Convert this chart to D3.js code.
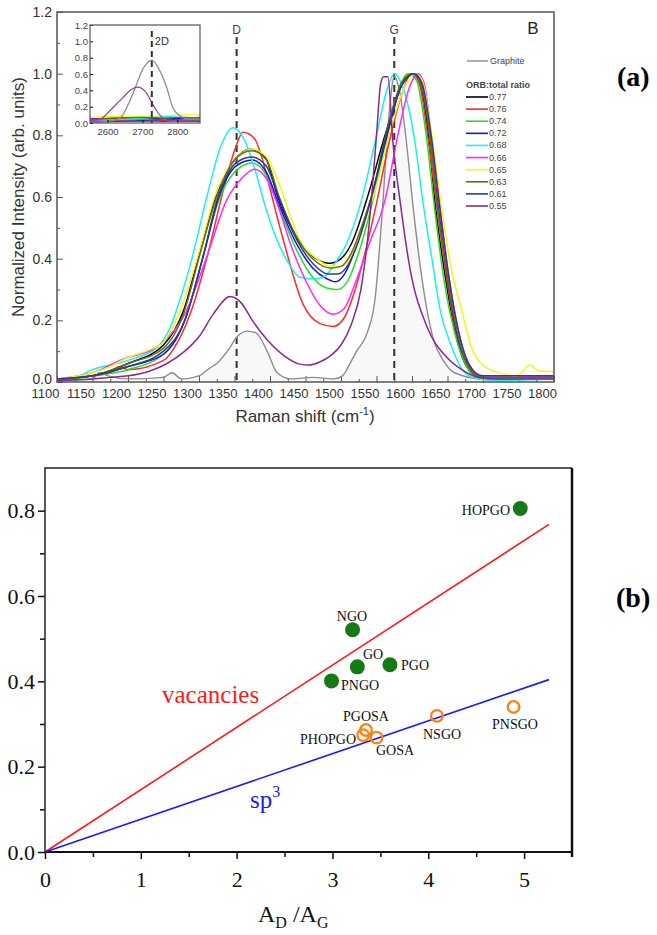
<!DOCTYPE html>
<html>
<head>
<meta charset="utf-8">
<script src="https://cdn.jsdelivr.net/npm/d3@7"></script>
<style>
body { margin: 0; background: #fff; }
svg { display: block; }
</style>
</head>
<body>
<svg id="fig" width="657" height="935"></svg>
<script>
// ---- panel (a): Raman spectra ----
var ratios = ['0.77', '0.76', '0.74', '0.72', '0.68', '0.66', '0.65', '0.63', '0.61', '0.55'];
var ratioColors = ['#000000', '#ff2a2a', '#22e022', '#1414dc', '#19f0f0', '#ff28ff', '#f5f514', '#6e6e00', '#2a3c96', '#8a2a8f'];

var graphite = [[1100,0.005],[1150,0.01],[1160,0.03],[1172,0.02],[1200,0.01],[1250,0.015],[1262,0.03],[1275,0.01],[1300,0.02],[1315,0.045],[1325,0.06],[1340,0.1],[1355,0.15],[1368,0.165],[1380,0.16],[1396,0.1],[1410,0.03],[1430,0.01],[1460,0.015],[1490,0.01],[1502,0.02],[1515,0.07],[1522,0.1],[1537,0.16],[1548,0.27],[1558,0.55],[1567,0.85],[1575,0.99],[1582,0.95],[1593,0.76],[1601,0.58],[1615,0.32],[1630,0.14],[1644,0.07],[1660,0.03],[1700,0.01],[1800,0.01]];

var s077 = [[1100,0.01],[1150,0.02],[1200,0.06],[1250,0.12],[1278,0.23],[1302,0.43],[1325,0.61],[1350,0.72],[1372,0.755],[1393,0.73],[1411,0.6],[1440,0.46],[1465,0.4],[1484,0.385],[1500,0.4],[1515,0.45],[1536,0.59],[1562,0.8],[1585,0.96],[1600,1.0],[1612,0.97],[1623,0.8],[1633,0.57],[1647,0.34],[1660,0.17],[1677,0.05],[1695,0.015],[1800,0.015]];
var s076 = [[1100,0.005],[1150,0.02],[1175,0.03],[1188,0.05],[1200,0.04],[1250,0.07],[1270,0.13],[1292,0.25],[1313,0.42],[1334,0.62],[1350,0.75],[1362,0.81],[1378,0.79],[1392,0.7],[1404,0.59],[1420,0.45],[1447,0.25],[1470,0.19],[1489,0.18],[1505,0.21],[1520,0.3],[1535,0.43],[1551,0.59],[1568,0.78],[1585,0.93],[1600,1.0],[1610,0.97],[1622,0.8],[1635,0.57],[1648,0.35],[1660,0.18],[1675,0.07],[1690,0.02],[1710,0.01],[1800,0.01]];
var s074 = [[1100,0.0],[1150,0.02],[1200,0.04],[1250,0.09],[1280,0.2],[1305,0.4],[1328,0.59],[1350,0.68],[1375,0.71],[1395,0.67],[1412,0.57],[1435,0.44],[1460,0.34],[1480,0.305],[1495,0.3],[1510,0.33],[1525,0.42],[1545,0.59],[1565,0.8],[1582,0.95],[1594,1.0],[1606,0.98],[1620,0.8],[1632,0.56],[1645,0.33],[1660,0.16],[1677,0.05],[1695,0.01],[1800,0.01]];
var s072 = [[1100,0.01],[1150,0.02],[1200,0.05],[1250,0.09],[1280,0.2],[1305,0.4],[1328,0.6],[1352,0.7],[1375,0.72],[1395,0.68],[1412,0.58],[1437,0.45],[1460,0.37],[1480,0.335],[1492,0.325],[1505,0.35],[1520,0.43],[1543,0.6],[1565,0.8],[1585,0.96],[1602,1.0],[1612,0.97],[1625,0.8],[1637,0.57],[1650,0.34],[1662,0.17],[1680,0.05],[1700,0.015],[1800,0.015]];
var s068 = [[1100,0.01],[1125,0.015],[1150,0.04],[1200,0.07],[1240,0.11],[1260,0.18],[1275,0.28],[1290,0.4],[1311,0.6],[1330,0.76],[1348,0.825],[1365,0.78],[1380,0.68],[1392,0.58],[1410,0.46],[1425,0.39],[1442,0.34],[1460,0.335],[1475,0.34],[1490,0.38],[1508,0.45],[1529,0.59],[1550,0.8],[1565,0.95],[1575,1.0],[1588,0.95],[1604,0.78],[1615,0.59],[1628,0.4],[1640,0.23],[1655,0.12],[1668,0.05],[1685,0.015],[1710,0.005],[1800,0.01]];
var s066 = [[1100,0.01],[1150,0.03],[1200,0.08],[1230,0.1],[1250,0.13],[1280,0.22],[1310,0.4],[1339,0.59],[1360,0.66],[1378,0.69],[1395,0.66],[1410,0.58],[1430,0.44],[1450,0.33],[1470,0.25],[1489,0.22],[1505,0.24],[1520,0.32],[1540,0.45],[1562,0.59],[1580,0.8],[1597,0.96],[1608,1.0],[1617,0.97],[1628,0.78],[1640,0.55],[1652,0.34],[1665,0.17],[1680,0.06],[1700,0.015],[1800,0.02]];
var s065 = [[1100,0.01],[1150,0.03],[1175,0.05],[1200,0.08],[1225,0.1],[1250,0.13],[1275,0.24],[1300,0.42],[1322,0.6],[1350,0.72],[1374,0.755],[1395,0.73],[1415,0.63],[1430,0.53],[1442,0.46],[1466,0.4],[1485,0.375],[1500,0.375],[1515,0.41],[1530,0.5],[1548,0.62],[1570,0.82],[1590,0.96],[1604,1.0],[1614,0.98],[1628,0.8],[1642,0.56],[1655,0.37],[1668,0.25],[1686,0.1],[1710,0.04],[1748,0.02],[1766,0.055],[1780,0.035],[1800,0.035]];
var s063 = [[1100,0.01],[1150,0.02],[1200,0.06],[1250,0.11],[1278,0.22],[1302,0.42],[1325,0.6],[1350,0.72],[1374,0.75],[1395,0.72],[1413,0.6],[1440,0.46],[1465,0.39],[1485,0.37],[1500,0.375],[1515,0.42],[1530,0.51],[1545,0.62],[1565,0.82],[1585,0.97],[1600,1.0],[1612,0.97],[1625,0.8],[1636,0.57],[1650,0.34],[1663,0.17],[1680,0.05],[1700,0.015],[1800,0.015]];
var s061 = [[1100,0.01],[1150,0.02],[1200,0.05],[1250,0.1],[1280,0.2],[1305,0.4],[1327,0.6],[1352,0.71],[1374,0.73],[1395,0.7],[1412,0.6],[1438,0.46],[1462,0.38],[1482,0.35],[1495,0.35],[1510,0.38],[1525,0.46],[1543,0.6],[1565,0.81],[1585,0.96],[1603,1.0],[1614,0.97],[1627,0.8],[1639,0.57],[1652,0.34],[1665,0.17],[1682,0.05],[1700,0.02],[1800,0.02]];
var s055 = [[1100,0.005],[1150,0.01],[1175,0.015],[1200,0.02],[1230,0.035],[1255,0.06],[1280,0.1],[1301,0.15],[1320,0.22],[1344,0.277],[1360,0.255],[1375,0.2],[1396,0.137],[1420,0.085],[1442,0.058],[1455,0.055],[1470,0.065],[1485,0.085],[1500,0.12],[1515,0.19],[1528,0.3],[1540,0.52],[1550,0.8],[1556,0.97],[1560,0.99],[1566,0.99],[1573,0.78],[1583,0.59],[1597,0.37],[1621,0.18],[1649,0.08],[1670,0.04],[1692,0.016],[1720,0.01],[1800,0.01]];
var spectra = [s077, s076, s074, s072, s068, s066, s065, s063, s061, s055];

// inset: 2D band
var insetGraphite = [[2550,0.01],[2600,0.02],[2636,0.06],[2664,0.27],[2684,0.48],[2700,0.65],[2713,0.73],[2727,0.77],[2750,0.64],[2770,0.43],[2787,0.19],[2807,0.09],[2830,0.05],[2865,0.04]];
var insetPurple = [[2550,0.03],[2580,0.05],[2607,0.15],[2625,0.23],[2644,0.31],[2665,0.4],[2687,0.44],[2700,0.42],[2713,0.36],[2727,0.25],[2741,0.15],[2759,0.06],[2780,0.03],[2865,0.03]];
var insetOthers = [
	[[2550,0.03],[2620,0.04],[2700,0.05],[2760,0.04],[2820,0.05],[2865,0.04]],
	[[2550,0.02],[2620,0.03],[2700,0.02],[2760,0.03],[2820,0.02],[2865,0.03]],
	[[2550,0.04],[2620,0.05],[2700,0.04],[2760,0.06],[2820,0.05],[2865,0.06]],
	[[2550,0.05],[2620,0.06],[2700,0.07],[2760,0.05],[2820,0.06],[2865,0.07]],
	[[2550,0.02],[2620,0.04],[2700,0.06],[2760,0.08],[2820,0.07],[2865,0.06]],
	[[2550,0.03],[2620,0.02],[2700,0.03],[2760,0.04],[2820,0.03],[2865,0.05]],
	[[2550,0.07],[2620,0.08],[2700,0.08],[2760,0.09],[2820,0.1],[2865,0.1]],
	[[2550,0.04],[2620,0.06],[2700,0.07],[2760,0.06],[2820,0.07],[2865,0.06]],
	[[2550,0.01],[2620,0.02],[2700,0.03],[2760,0.02],[2820,0.03],[2865,0.02]]
];

// ---- panel (b): A_D/A_G scatter ----
var oxidized = ['HOPGO', 'NGO', 'GO', 'PGO', 'PNGO'];
var oxX = [4.96, 3.21, 3.26, 3.60, 2.99];
var oxY = [0.805, 0.521, 0.434, 0.439, 0.401];
var reduced = ['PGOSA', 'PHOPGO', 'GOSA', 'NSGO', 'PNSGO'];
var redX = [3.35, 3.32, 3.46, 4.09, 4.89];
var redY = [0.286, 0.274, 0.268, 0.319, 0.340];
var vacancyLine = [[0, 0], [5.26, 0.768]];
var sp3Line = [[0, 0], [5.26, 0.404]];

var svg = d3.select('#fig');
var sans = '"Liberation Sans", Arial, sans-serif';
var serif = '"Liberation Serif", "Times New Roman", serif';

// ================= top panel =================
var tx = d3.scaleLinear().domain([1100, 1800]).range([57, 554]);
var ty = d3.scaleLinear().domain([0, 1.2]).range([382, 12]);
var topG = svg.append('g');

var line = d3.line()
	.x(function(d) { return tx(d[0]); })
	.y(function(d) { return ty(d[1]); })
	.curve(d3.curveMonotoneX);
var area = d3.area()
	.x(function(d) { return tx(d[0]); })
	.y0(ty(0))
	.y1(function(d) { return ty(d[1]); })
	.curve(d3.curveMonotoneX);

topG.append('path').datum(graphite).attr('d', area).style('fill', '#f8f8f8');

// axes (inward ticks)
var xMajor = d3.range(1100, 1801, 50);
var xMinor = d3.range(1125, 1800, 50);
topG.append('g').attr('transform', 'translate(0,382)')
	.call(d3.axisBottom(tx).tickValues(xMinor).tickSize(-3).tickFormat(''))
	.call(function(g) { g.select('.domain').remove(); })
	.selectAll('line').style('stroke', '#555');
var xAxis = topG.append('g').attr('transform', 'translate(0,382)')
	.call(d3.axisBottom(tx).tickValues(xMajor).tickSize(-6).tickPadding(7).tickFormat(d3.format('d')));
xAxis.select('.domain').remove();
xAxis.selectAll('line').style('stroke', '#555');
xAxis.selectAll('text').attr('dx', -12).style('font-family', sans).style('font-size', '13px').style('fill', '#333');

var yAxis = topG.append('g').attr('transform', 'translate(57,0)')
	.call(d3.axisLeft(ty).tickValues(d3.range(0, 1.21, 0.2)).tickSize(-6).tickPadding(5).tickFormat(d3.format('.1f')));
yAxis.select('.domain').remove();
yAxis.selectAll('line').style('stroke', '#555');
yAxis.selectAll('text').style('font-family', sans).style('font-size', '14px').style('fill', '#333');
yAxis.selectAll('.tick').filter(function(d) { return d === 0; }).select('text').attr('dy', '0.1em');
topG.append('g').attr('transform', 'translate(57,0)')
	.call(d3.axisLeft(ty).tickValues(d3.range(0.1, 1.2, 0.2)).tickSize(-3).tickFormat(''))
	.call(function(g) { g.select('.domain').remove(); })
	.selectAll('line').style('stroke', '#555');

// D and G markers
var bands = [{name: 'D', pos: 1353}, {name: 'G', pos: 1575}];
topG.selectAll('.band-line').data(bands).enter().append('line')
	.attr('class', 'band-line')
	.attr('x1', function(d) { return tx(d.pos); })
	.attr('x2', function(d) { return tx(d.pos); })
	.attr('y1', 37).attr('y2', 382)
	.style('stroke', '#333').style('stroke-width', 2).style('stroke-dasharray', '7,5');
topG.selectAll('.band-label').data(bands).enter().append('text')
	.attr('class', 'band-label')
	.attr('x', function(d) { return tx(d.pos); })
	.attr('y', 34)
	.attr('text-anchor', 'middle')
	.style('font-family', sans).style('font-size', '12px').style('fill', '#444')
	.text(function(d) { return d.name; });

// spectra
topG.append('path').datum(graphite).attr('d', line)
	.style('fill', 'none').style('stroke', '#8c8c8c').style('stroke-width', 1.4);
topG.selectAll('.spec').data(spectra).enter().append('path')
	.attr('class', 'spec')
	.attr('d', line)
	.style('fill', 'none')
	.style('stroke', function(d, i) { return ratioColors[i]; })
	.style('stroke-width', 1.5);

// frame
topG.append('rect').attr('x', 57).attr('y', 12).attr('width', 497).attr('height', 370)
	.style('fill', 'none').style('stroke', '#555').style('stroke-width', 1.5);

topG.append('text').attr('x', 533).attr('y', 34).attr('text-anchor', 'middle')
	.style('font-family', sans).style('font-size', '17px').style('fill', '#222').text('B');

// legend
var leg = topG.append('g').style('font-family', sans).style('font-size', '9px').style('fill', '#444');
leg.append('line').attr('x1', 467).attr('x2', 488).attr('y1', 61).attr('y2', 61)
	.style('stroke', '#8c8c8c').style('stroke-width', 1.4);
leg.append('text').attr('x', 490).attr('y', 64).text('Graphite');
leg.append('text').attr('x', 466).attr('y', 88).style('font-weight', 'bold').text('ORB:total ratio');
var legY = d3.scaleLinear().domain([0, 9]).range([97, 206]);
leg.selectAll('.leg-line').data(ratios).enter().append('line')
	.attr('class', 'leg-line')
	.attr('x1', 466).attr('x2', 488)
	.attr('y1', function(d, i) { return legY(i); })
	.attr('y2', function(d, i) { return legY(i); })
	.style('stroke', function(d, i) { return ratioColors[i]; })
	.style('stroke-width', 1.6);
leg.selectAll('.leg-text').data(ratios).enter().append('text')
	.attr('class', 'leg-text')
	.attr('x', 489)
	.attr('y', function(d, i) { return legY(i) + 3; })
	.text(function(d) { return d; });

// axis titles
topG.append('text')
	.attr('transform', 'translate(24,197) rotate(-90)')
	.attr('text-anchor', 'middle')
	.style('font-family', sans).style('font-size', '17px').style('fill', '#333')
	.text('Normalized Intensity (arb. units)');
var xt = topG.append('text').attr('x', 305).attr('y', 422).attr('text-anchor', 'middle')
	.style('font-family', sans).style('font-size', '17px').style('fill', '#333');
xt.append('tspan').text('Raman shift (cm');
xt.append('tspan').attr('dy', -7).style('font-size', '11px').text('-1');
xt.append('tspan').attr('dy', 7).text(')');

// inset
var ix = d3.scaleLinear().domain([2550, 2865]).range([90, 200]);
var iy = d3.scaleLinear().domain([0, 1.2]).range([123, 25]);
var inset = topG.append('g');
inset.append('rect').attr('x', 90).attr('y', 25).attr('width', 110).attr('height', 98).style('fill', '#fff');
var iline = d3.line()
	.x(function(d) { return ix(d[0]); })
	.y(function(d) { return iy(d[1]); })
	.curve(d3.curveMonotoneX);
var insetColors = ['#000000', '#ff2a2a', '#22e022', '#1414dc', '#19f0f0', '#ff28ff', '#f5f514', '#6e6e00', '#2a3c96'];
inset.selectAll('.ispec').data(insetOthers).enter().append('path')
	.attr('class', 'ispec').attr('d', iline)
	.style('fill', 'none')
	.style('stroke', function(d, i) { return insetColors[i]; })
	.style('stroke-width', 1.2);
inset.append('path').datum(insetGraphite).attr('d', iline)
	.style('fill', 'none').style('stroke', '#8c8c8c').style('stroke-width', 1.3);
inset.append('path').datum(insetPurple).attr('d', iline)
	.style('fill', 'none').style('stroke', '#a03ca8').style('stroke-width', 1.2);
inset.append('line').attr('x1', ix(2727)).attr('x2', ix(2727)).attr('y1', 31).attr('y2', 123)
	.style('stroke', '#333').style('stroke-width', 2).style('stroke-dasharray', '6,4');
inset.append('text').attr('x', ix(2727) + 3).attr('y', 45)
	.style('font-family', sans).style('font-size', '11px').style('fill', '#333').text('2D');
var ixAxis = inset.append('g').attr('transform', 'translate(0,123)')
	.call(d3.axisBottom(ix).tickValues([2600, 2700, 2800]).tickSize(-3).tickPadding(5).tickFormat(d3.format('d')));
ixAxis.select('.domain').remove();
ixAxis.selectAll('text').style('font-family', sans).style('font-size', '9.5px').style('fill', '#444');
var iyAxis = inset.append('g').attr('transform', 'translate(90,0)')
	.call(d3.axisLeft(iy).tickValues(d3.range(0, 1.21, 0.2)).tickSize(-3).tickPadding(2).tickFormat(d3.format('.1f')));
iyAxis.select('.domain').remove();
iyAxis.selectAll('text').style('font-family', sans).style('font-size', '9.5px').style('fill', '#444');
inset.append('rect').attr('x', 90).attr('y', 25).attr('width', 110).attr('height', 98)
	.style('fill', 'none').style('stroke', '#555').style('stroke-width', 1.2);

svg.append('text').attr('x', 617).attr('y', 86)
	.style('font-family', serif).style('font-weight', 'bold').style('font-size', '28px').text('(a)');

// ================= bottom panel =================
var bx = d3.scaleLinear().domain([0, 5.5]).range([45, 572]);
var by = d3.scaleLinear().domain([0, 0.9]).range([852, 468]);
var bot = svg.append('g');

var bxAxis = bot.append('g').attr('transform', 'translate(0,852)')
	.call(d3.axisBottom(bx).tickValues(d3.range(0, 5.1, 1)).tickSize(7).tickPadding(12).tickFormat(d3.format('d')));
var byAxis = bot.append('g').attr('transform', 'translate(45,0)')
	.call(d3.axisLeft(by).tickValues(d3.range(0, 0.81, 0.2)).tickSize(7).tickPadding(3).tickFormat(d3.format('.1f')));
[bxAxis, byAxis].forEach(function(g) {
	g.select('.domain').remove();
	g.selectAll('line').style('stroke', '#111').style('stroke-width', 1.5);
	g.selectAll('text').style('font-family', serif).style('font-size', '22px').style('fill', '#111');
});
bot.append('g').attr('transform', 'translate(0,852)')
	.call(d3.axisBottom(bx).tickValues(d3.range(0.5, 5.5, 1)).tickSize(5).tickFormat(''))
	.call(function(g) { g.select('.domain').remove(); })
	.selectAll('line').style('stroke', '#111').style('stroke-width', 1.5);
bot.append('g').attr('transform', 'translate(45,0)')
	.call(d3.axisLeft(by).tickValues(d3.range(0.1, 0.9, 0.2)).tickSize(5).tickFormat(''))
	.call(function(g) { g.select('.domain').remove(); })
	.selectAll('line').style('stroke', '#111').style('stroke-width', 1.5);

bot.append('path').attr('d', 'M45,852V468H572')
	.style('fill', 'none').style('stroke', '#222').style('stroke-width', 1.5);
bot.append('path').attr('d', 'M45,852H572')
	.style('fill', 'none').style('stroke', '#111').style('stroke-width', 2);
bot.append('path').attr('d', 'M572,468V857')
	.style('fill', 'none').style('stroke', '#111').style('stroke-width', 2.5);

var bline = d3.line()
	.x(function(d) { return bx(d[0]); })
	.y(function(d) { return by(d[1]); });
bot.append('path').datum(vacancyLine).attr('d', bline)
	.style('fill', 'none').style('stroke', '#ff1a1a').style('stroke-width', 1.6);
bot.append('path').datum(sp3Line).attr('d', bline)
	.style('fill', 'none').style('stroke', '#1a1aff').style('stroke-width', 1.6);

bot.append('text').attr('x', 162).attr('y', 703)
	.style('font-family', serif).style('font-size', '25px').style('fill', '#ff1a1a').text('vacancies');
var sp = bot.append('text').attr('x', 250).attr('y', 808)
	.style('font-family', serif).style('font-size', '25px').style('fill', '#1a1aff');
sp.append('tspan').text('sp');
sp.append('tspan').attr('dy', -11).style('font-size', '16px').text('3');

bot.selectAll('.ox').data(oxidized).enter().append('circle')
	.attr('class', 'ox')
	.attr('cx', function(d, i) { return bx(oxX[i]); })
	.attr('cy', function(d, i) { return by(oxY[i]); })
	.attr('r', 7.5)
	.style('fill', '#157a15');
bot.selectAll('.red').data(reduced).enter().append('circle')
	.attr('class', 'red')
	.attr('cx', function(d, i) { return bx(redX[i]); })
	.attr('cy', function(d, i) { return by(redY[i]); })
	.attr('r', 5.8)
	.style('fill', 'none').style('stroke', '#ff8010').style('stroke-width', 2.3);

// point labels: [name, x, y, anchor]
var pointLabels = [
	['HOPGO', 510, 515, 'end'], ['NGO', 352, 621, 'middle'], ['GO', 363, 659, 'start'],
	['PGO', 401, 670, 'start'], ['PNGO', 341, 690, 'start'], ['PGOSA', 343, 721, 'start'],
	['PHOPGO', 356, 744, 'end'], ['GOSA', 376, 755, 'start'], ['NSGO', 423, 739, 'start'],
	['PNSGO', 492, 729, 'start']
];
bot.selectAll('.plabel').data(pointLabels).enter().append('text')
	.attr('class', 'plabel')
	.attr('x', function(d) { return d[1]; })
	.attr('y', function(d) { return d[2]; })
	.attr('text-anchor', function(d) { return d[3]; })
	.style('font-family', serif).style('font-size', '14px').style('fill', '#111')
	.text(function(d) { return d[0]; });

var bt = bot.append('text').attr('x', 258).attr('y', 922)
	.style('font-family', serif).style('font-size', '24px').style('fill', '#111');
bt.append('tspan').text('A');
bt.append('tspan').attr('dy', 6).style('font-size', '16px').text('D');
bt.append('tspan').attr('dy', -6).text(' /A');
bt.append('tspan').attr('dy', 6).style('font-size', '16px').text('G');

svg.append('text').attr('x', 616).attr('y', 607)
	.style('font-family', serif).style('font-weight', 'bold').style('font-size', '28px').text('(b)');
</script>
</body>
</html>
